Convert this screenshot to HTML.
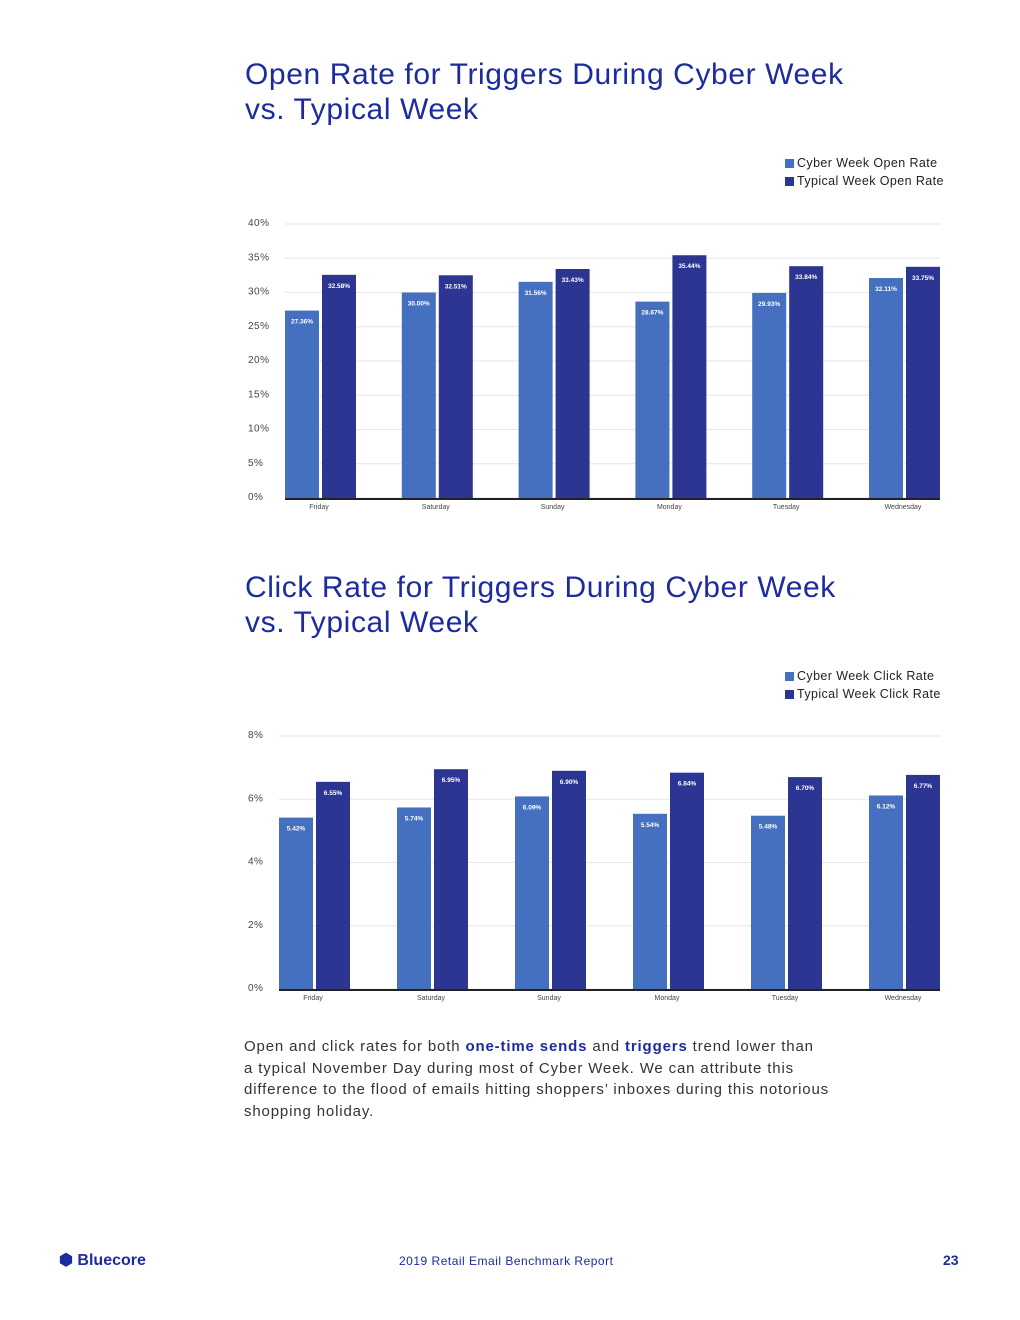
<!DOCTYPE html>
<html><head><meta charset="utf-8"><style>
body{margin:0;background:#fff;font-family:"Liberation Sans",sans-serif;}
#page{position:relative;width:1020px;height:1320px;overflow:hidden;}
.title{position:absolute;left:245px;color:#1c2ba0;font-size:30px;line-height:35px;margin:0;font-weight:normal;letter-spacing:0.6px;white-space:nowrap}
.legend{position:absolute;left:785px;font-size:12.5px;color:#222;line-height:18px;letter-spacing:0.4px}
.legend span.sw{display:inline-block;width:9px;height:9px;margin-right:3px;vertical-align:-1px}
.body{position:absolute;left:244px;top:1036px;width:640px;font-size:15px;line-height:21.7px;color:#333;letter-spacing:0.85px;white-space:nowrap}
.body b{color:#1c2ba0}
svg{position:absolute;left:0;top:0}
</style></head><body>
<div id="page">
<h1 class="title" style="top:57px">Open Rate for Triggers During Cyber Week<br>vs. Typical Week</h1>
<div class="legend" style="top:154px">
<div><span class="sw" style="background:#4570c0"></span>Cyber Week Open Rate</div>
<div><span class="sw" style="background:#2c3591"></span>Typical Week Open Rate</div></div>
<h1 class="title" style="top:570px">Click Rate for Triggers During Cyber Week<br>vs. Typical Week</h1>
<div class="legend" style="top:667px">
<div><span class="sw" style="background:#4570c0"></span>Cyber Week Click Rate</div>
<div><span class="sw" style="background:#2c3591"></span>Typical Week Click Rate</div></div>
<svg id="charts" width="1020" height="1320"></svg>
<div class="body">Open and click rates for both <b>one-time sends</b> and <b>triggers</b> trend lower than<br>a typical November Day during most of Cyber Week. We can attribute this<br>difference to the flood of emails hitting shoppers’ inboxes during this notorious<br>shopping holiday.</div>
<div style="position:absolute;left:59px;top:1250px;font-size:16px;font-weight:bold;color:#1c2ba0">⬢ Bluecore</div>
<div style="position:absolute;left:399px;top:1254px;font-size:12px;color:#1c2ba0;letter-spacing:0.5px">2019 Retail Email Benchmark Report</div>
<div style="position:absolute;left:943px;top:1252px;font-size:14px;font-weight:bold;color:#1c2ba0">23</div>
</div>
<script>
const days=["Friday","Saturday","Sunday","Monday","Tuesday","Wednesday"];
const openCyber=[27.36,30.00,31.56,28.67,29.93,32.11];
const openTypical=[32.58,32.51,33.43,35.44,33.84,33.75];
const openTicks=[0,5,10,15,20,25,30,35,40];
const clickCyber=[5.42,5.74,6.09,5.54,5.48,6.12];
const clickTypical=[6.55,6.95,6.90,6.84,6.70,6.77];
const clickTicks=[0,2,4,6,8];
const NS="http://www.w3.org/2000/svg";
const svg=document.getElementById('charts');
function el(t,a,txt){const e=document.createElementNS(NS,t);for(const k in a)e.setAttribute(k,a[k]);if(txt!==undefined)e.textContent=txt;svg.appendChild(e);return e;}
function chart(cfg){
 const y=v=>cfg.y0-(v-cfg.min)/(cfg.max-cfg.min)*(cfg.y0-cfg.y1);
 const gw=(cfg.x1-cfg.x0-71)/(days.length-1);
 const xc=i=>cfg.x0+gw*i+34;
 cfg.ticks.forEach(t=>{
  const g=el('line',{x1:cfg.x0,x2:cfg.x1,y1:y(t),y2:y(t),stroke:'#e6e6e6','stroke-width':1});
  
  
  const l=el('text',{x:cfg.tx,y:y(t)+2,'font-size':10,fill:'#444','letter-spacing':'0.5'},t+'%');
  
  
 });
 days.forEach((d,i)=>{
  const c=xc(i);
  [[cfg.a[i],c-34,'#4570c0'],[cfg.b[i],c+3,'#2c3591']].forEach(([v,x,col],k)=>{
   const r=el('rect',{x:x,y:y(v),width:34,height:cfg.y0-y(v),fill:col});
   
   
   const t=el('text',{x:x+17,y:y(v)+13,'font-size':6.5,'font-weight':'bold',fill:'#fff','text-anchor':'middle'},v.toFixed(2)+'%');
   
   
  });
  const lb=el('text',{x:c,y:cfg.y0+11,'font-size':7,fill:'#444','text-anchor':'middle'},d);
  
  
 });
 const ax=el('line',{x1:cfg.x0,x2:cfg.x1,y1:cfg.y0+1,y2:cfg.y0+1,stroke:'#222','stroke-width':2});
 
 
}
chart({a:openCyber,b:openTypical,ticks:openTicks,min:0,max:40,y0:498,y1:224,x0:285,x1:940,tx:248});
chart({a:clickCyber,b:clickTypical,ticks:clickTicks,min:0,max:8,y0:989,y1:736,x0:279,x1:940,tx:248});
</script>
</body></html>
